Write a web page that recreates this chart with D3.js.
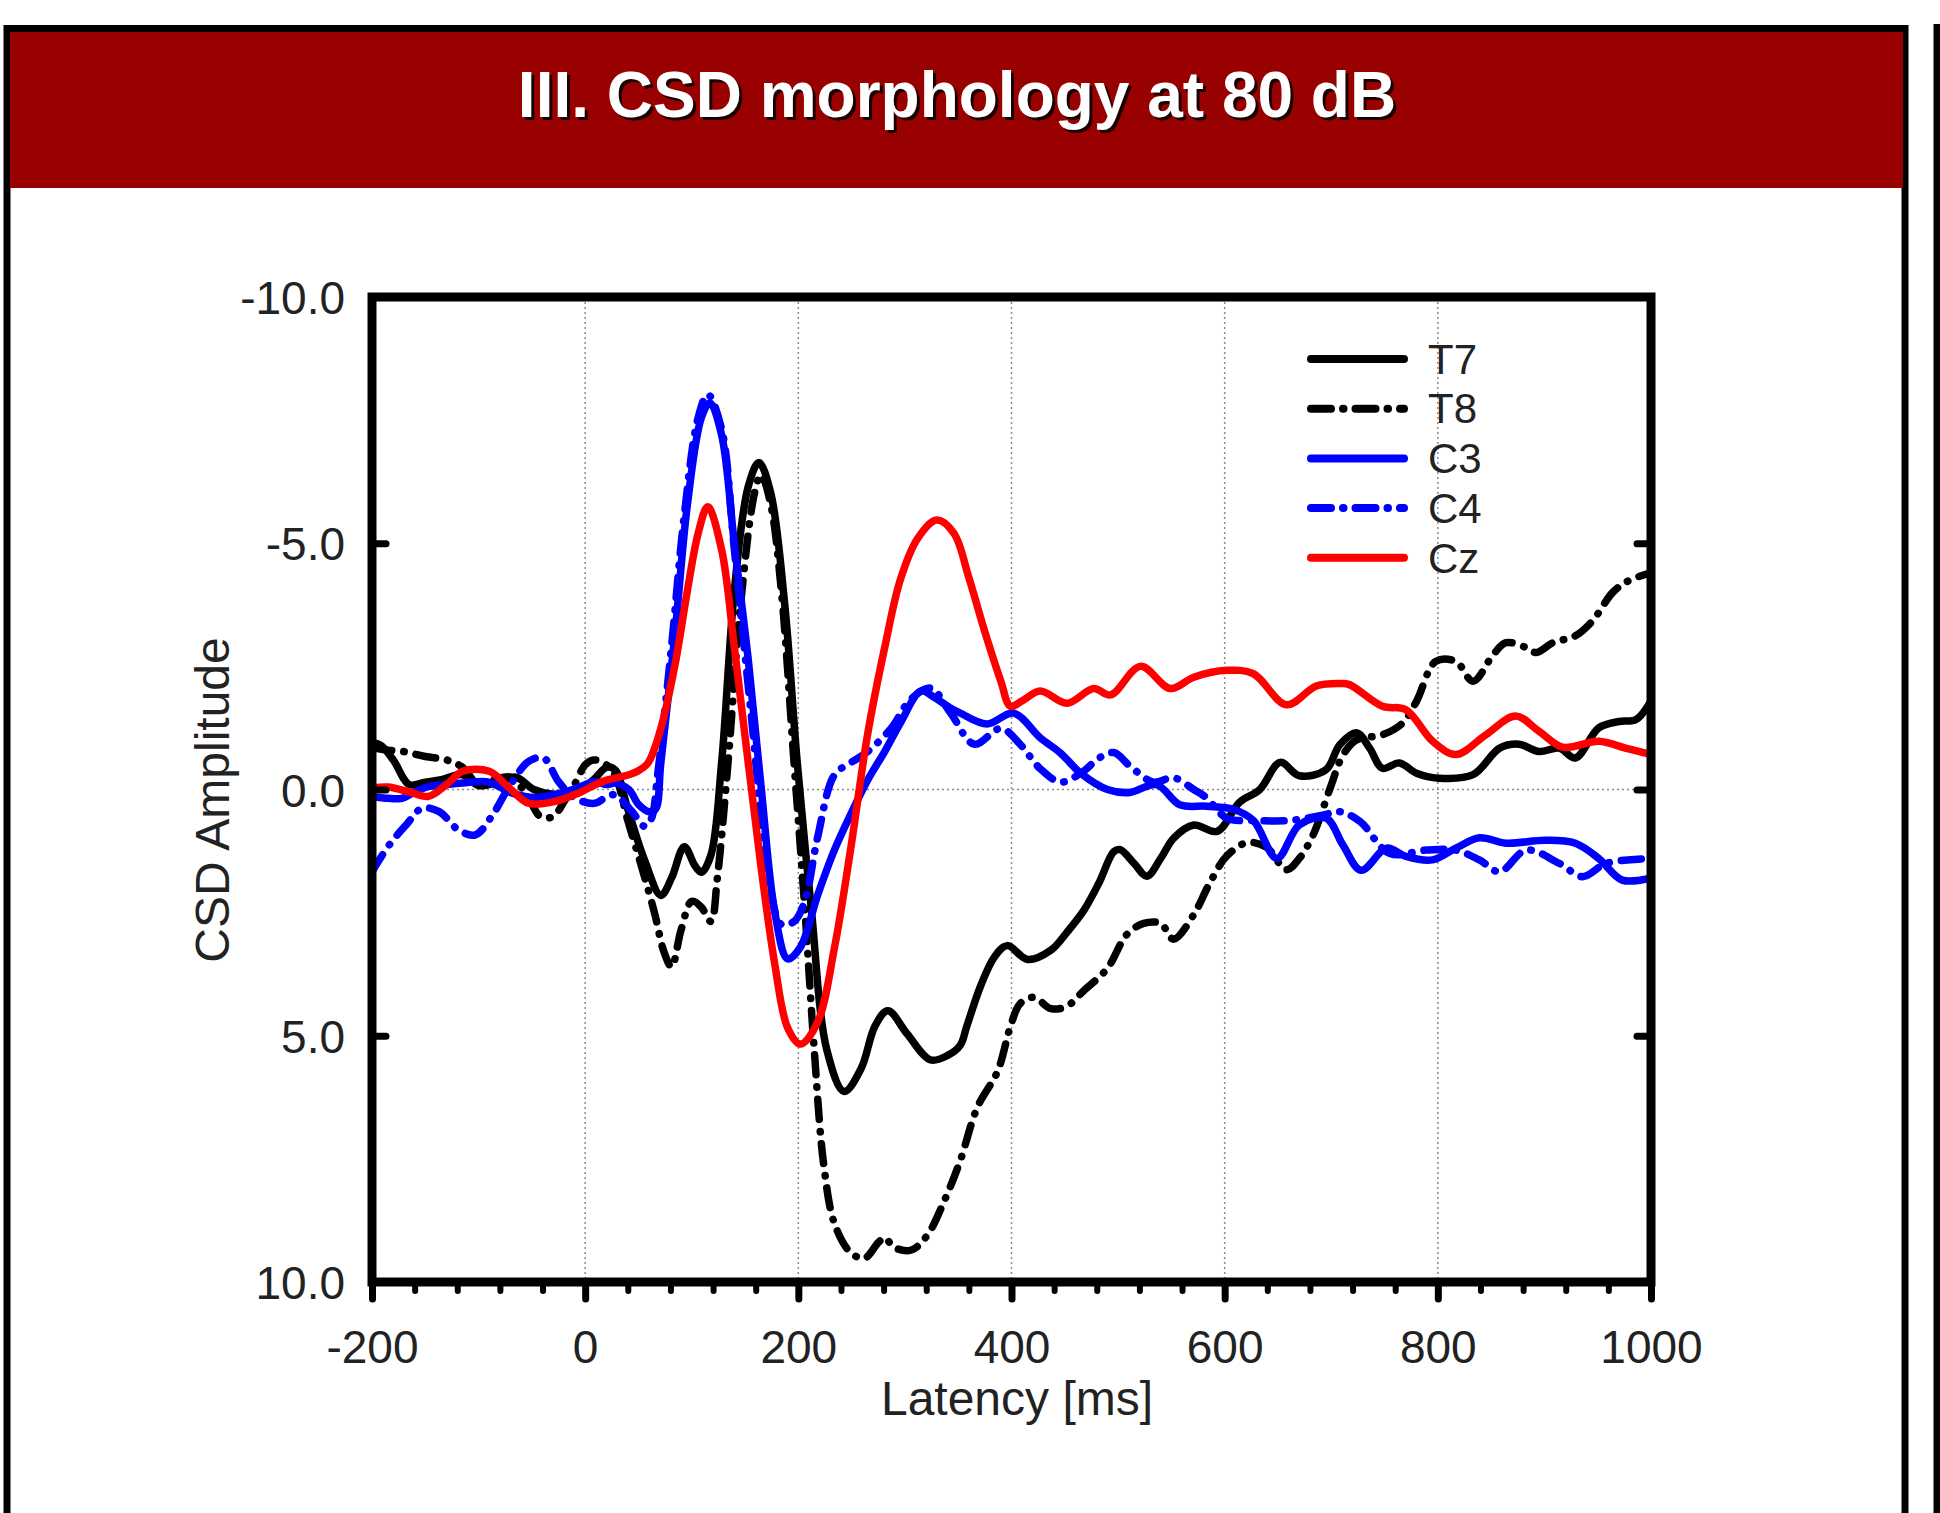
<!DOCTYPE html>
<html>
<head>
<meta charset="utf-8">
<script src="https://cdn.jsdelivr.net/npm/d3@7"></script>
<style>
  body { margin: 0; background: #fff; }
  svg { display: block; font-family: "Liberation Sans", Arial, sans-serif; }
</style>
</head>
<body>
<div id="chart"></div>
<script>
// data: [latency ms, CSD amplitude]
const t7 = [[-200,-0.95],[-192,-0.9],[-180,-0.6],[-165,-0.1],[-150,-0.15],[-135,-0.2],[-115,-0.3],[-100,-0.08],[-82,-0.15],[-65,-0.25],[-48,0.0],[-28,0.1],[-8,0.05],[8,-0.2],[20,-0.45],[28,-0.4],[40,0.4],[56,1.45],[71,2.15],[81,1.8],[93,1.16],[103,1.55],[109,1.68],[118,1.33],[128,-0.54],[140,-4.05],[153,-6.15],[163,-6.64],[174,-6.03],[187,-3.81],[199,-0.54],[212,2.39],[227,5.31],[243,6.13],[259,5.66],[272,4.8],[284,4.49],[302,4.96],[324,5.49],[340,5.4],[352,5.19],[358,4.81],[371,3.99],[384,3.4],[396,3.17],[415,3.45],[437,3.26],[452,2.9],[468,2.45],[482,1.9],[496,1.26],[502,1.22],[515,1.5],[527,1.76],[540,1.4],[552,0.99],[571,0.72],[593,0.85],[614,0.26],[633,0.0],[652,-0.55],[670,-0.28],[695,-0.4],[708,-0.91],[724,-1.15],[736,-0.84],[748,-0.43],[764,-0.54],[780,-0.33],[801,-0.23],[833,-0.3],[858,-0.84],[876,-0.92],[895,-0.77],[914,-0.84],[929,-0.64],[951,-1.25],[970,-1.38],[986,-1.42],[1000,-1.8]];

const t8 = [[-200,-0.85],[-185,-0.8],[-170,-0.77],[-150,-0.67],[-130,-0.6],[-115,-0.45],[-100,-0.1],[-85,-0.2],[-70,-0.25],[-55,0.1],[-42,0.55],[-30,0.55],[-20,0.25],[-10,-0.1],[0,-0.5],[8,-0.6],[20,-0.5],[28,-0.3],[40,0.63],[53,1.57],[65,2.5],[74,3.3],[81,3.6],[90,2.85],[100,2.27],[109,2.39],[118,2.68],[124,1.8],[134,-0.54],[146,-3.8],[159,-6.03],[165,-6.39],[174,-5.8],[184,-4.05],[196,-0.54],[206,2.39],[215,5.31],[224,7.65],[234,8.82],[249,9.4],[262,9.52],[275,9.2],[281,9.1],[290,9.3],[306,9.35],[321,9.05],[337,8.35],[352,7.53],[368,6.45],[387,5.72],[399,4.81],[408,4.35],[421,4.22],[437,4.45],[452,4.4],[468,4.08],[490,3.63],[508,2.95],[524,2.72],[540,2.72],[552,3.04],[571,2.54],[586,1.9],[602,1.35],[621,1.08],[639,1.17],[658,1.63],[670,1.4],[683,0.92],[699,-0.03],[711,-0.7],[724,-1.01],[748,-1.11],[767,-1.35],[780,-1.79],[798,-2.6],[817,-2.6],[833,-2.2],[852,-2.74],[864,-2.98],[883,-2.88],[892,-2.78],[908,-2.98],[929,-3.12],[945,-3.42],[964,-4.0],[979,-4.24],[1000,-4.4]];

const c3 = [[-200,0.14],[-185,0.18],[-172,0.18],[-160,0.05],[-147,-0.06],[-130,-0.1],[-115,-0.13],[-93,-0.16],[-80,-0.05],[-69,0.07],[-47,0.16],[-22,0.07],[-5,-0.05],[9,-0.16],[20,-0.1],[28,-0.13],[41,0.0],[50,0.3],[60,0.45],[66,0.4],[71,-0.54],[84,-3.1],[96,-5.8],[109,-7.55],[117,-7.85],[128,-7.2],[140,-4.98],[153,-2.64],[165,-0.07],[178,2.5],[190,3.44],[202,3.2],[218,2.15],[234,1.22],[249,0.51],[265,-0.19],[281,-0.77],[296,-1.36],[315,-2.0],[327,-1.88],[343,-1.65],[352,-1.55],[377,-1.33],[402,-1.55],[427,-1.05],[446,-0.74],[465,-0.33],[490,0.0],[511,0.06],[536,-0.1],[558,0.31],[583,0.34],[608,0.4],[627,0.63],[649,1.4],[670,0.72],[695,0.58],[711,1.13],[728,1.64],[752,1.19],[770,1.36],[795,1.43],[817,1.19],[839,0.98],[864,1.09],[901,1.03],[929,1.09],[951,1.4],[973,1.84],[1000,1.8]];

const c4 = [[-200,1.67],[-184,1.13],[-168,0.72],[-153,0.38],[-137,0.45],[-119,0.82],[-103,0.92],[-87,0.52],[-72,-0.03],[-53,-0.57],[-39,-0.64],[-25,-0.16],[-9,0.18],[9,0.28],[20,0.15],[28,0.11],[44,0.45],[56,0.75],[62,0.6],[68,-0.3],[81,-2.9],[93,-5.57],[106,-7.55],[115,-8.02],[128,-7.32],[140,-4.87],[156,-1.47],[171,1.57],[184,2.74],[196,2.68],[206,2.27],[218,0.98],[234,-0.3],[249,-0.54],[265,-0.77],[287,-1.24],[305,-1.82],[324,-2.06],[343,-1.55],[365,-0.92],[390,-1.24],[408,-0.92],[427,-0.42],[446,-0.15],[465,-0.33],[483,-0.65],[496,-0.75],[511,-0.48],[533,-0.15],[552,-0.24],[571,0.0],[583,0.17],[602,0.58],[630,0.63],[661,0.63],[692,0.52],[708,0.45],[727,0.65],[755,1.3],[789,1.23],[817,1.23],[839,1.43],[858,1.67],[883,1.23],[914,1.5],[936,1.77],[958,1.5],[1000,1.4]];

const cz = [[-200,-0.03],[-185,-0.05],[-165,0.05],[-147,0.14],[-130,-0.1],[-115,-0.37],[-90,-0.37],[-72,-0.05],[-53,0.28],[-28,0.24],[-6,0.07],[16,-0.16],[41,-0.3],[50,-0.38],[59,-0.54],[71,-1.24],[84,-2.5],[96,-4.05],[106,-5.2],[115,-5.74],[128,-4.87],[140,-2.88],[153,-0.54],[165,1.57],[178,3.56],[190,4.84],[202,5.17],[218,4.73],[234,3.2],[249,1.22],[265,-1.12],[281,-2.88],[296,-4.28],[312,-5.1],[330,-5.47],[346,-5.2],[360,-4.3],[375,-3.2],[390,-2.2],[399,-1.69],[410,-1.8],[427,-2.0],[452,-1.75],[477,-2.05],[493,-1.92],[521,-2.5],[549,-2.05],[571,-2.28],[602,-2.42],[627,-2.35],[658,-1.72],[686,-2.1],[708,-2.15],[717,-2.13],[748,-1.69],[770,-1.62],[795,-0.98],[817,-0.71],[845,-1.11],[873,-1.49],[895,-1.18],[917,-0.86],[951,-0.98],[976,-0.84],[1000,-0.71]];

const seriesNames = ["T7", "T8", "C3", "C4", "Cz"];
const seriesData = [t7, t8, c3, c4, cz];
const seriesColors = ["#000000", "#000000", "#0000ff", "#0000ff", "#ff0000"];
const seriesDashed = [false, true, false, true, false];

const xTicks = [-200, 0, 200, 400, 600, 800, 1000];
const yTicks = [-10, -5, 0, 5, 10];
const gridX = [0, 200, 400, 600, 800];

const W = 1940, H = 1513;
const svg = d3.select("#chart").append("svg")
  .attr("width", W)
  .attr("height", H);

// poster panel
svg.append("rect")
  .attr("x", 7).attr("y", 28.5)
  .attr("width", 1898).attr("height", 1600)
  .attr("fill", "#fff").attr("stroke", "#000").attr("stroke-width", 7);
svg.append("line")
  .attr("x1", 1937).attr("x2", 1937).attr("y1", 24).attr("y2", H)
  .attr("stroke", "#000").attr("stroke-width", 7);

svg.append("rect")
  .attr("x", 10).attr("y", 32)
  .attr("width", 1893).attr("height", 156)
  .attr("fill", "#990000");

const title = "III. CSD morphology at 80 dB";
svg.append("text")
  .attr("x", 960).attr("y", 120)
  .attr("text-anchor", "middle")
  .attr("font-size", 64).attr("font-weight", "bold")
  .attr("fill", "#1a0000")
  .text(title);
svg.append("text")
  .attr("x", 957).attr("y", 117)
  .attr("text-anchor", "middle")
  .attr("font-size", 64).attr("font-weight", "bold")
  .attr("fill", "#fff")
  .text(title);

// chart
const x = d3.scaleLinear().domain([-200, 1000]).range([372, 1651]);
const y = d3.scaleLinear().domain([-10, 10]).range([297, 1282]);

svg.append("defs").append("clipPath").attr("id", "plot")
  .append("rect")
  .attr("x", x(-200)).attr("y", y(-10))
  .attr("width", x(1000) - x(-200)).attr("height", y(10) - y(-10));

const grid = svg.append("g")
  .attr("stroke", "#8a8a8a").attr("stroke-width", 1.5).attr("stroke-dasharray", "2,3");
grid.selectAll("line.gx").data(gridX).join("line")
  .attr("class", "gx")
  .attr("x1", d => x(d)).attr("x2", d => x(d))
  .attr("y1", y(-10)).attr("y2", y(10));
grid.append("line")
  .attr("x1", x(-200)).attr("x2", x(1000))
  .attr("y1", y(0)).attr("y2", y(0));

const line = d3.line()
  .x(d => x(d[0]))
  .y(d => y(d[1]))
  .curve(d3.curveCatmullRom.alpha(0.5));

svg.append("g").attr("clip-path", "url(#plot)")
  .selectAll("path")
  .data(seriesData)
  .join("path")
  .attr("d", line)
  .attr("fill", "none")
  .attr("stroke", (d, i) => seriesColors[i])
  .attr("stroke-width", 7.5)
  .attr("stroke-linecap", "round")
  .attr("stroke-linejoin", "round")
  .attr("stroke-dasharray", (d, i) => seriesDashed[i] ? "20,12,0.5,12" : null);

// axes
function styleAxis(g, size) {
  g.select(".domain").remove();
  g.selectAll(".tick line")
    .attr("stroke", "#000").attr("stroke-width", 7).attr("stroke-linecap", "round");
  g.selectAll(".tick text")
    .attr("font-size", size).attr("fill", "#222")
    .attr("font-family", "\"Liberation Sans\", Arial, sans-serif");
}

svg.append("g")
  .attr("transform", `translate(0,${y(10)})`)
  .call(d3.axisBottom(x)
    .tickValues(d3.range(-200, 1001, 40).filter(d => d % 200 !== 0))
    .tickSize(9).tickFormat(""))
  .call(g => styleAxis(g, 46))
  .call(g => g.selectAll(".tick line").attr("stroke-width", 6));

svg.append("g")
  .attr("transform", `translate(0,${y(10)})`)
  .call(d3.axisBottom(x).tickValues(xTicks)
    .tickSize(17).tickPadding(31).tickFormat(d => String(d)))
  .call(g => styleAxis(g, 46));

svg.append("g")
  .attr("transform", `translate(${x(-200)},0)`)
  .call(d3.axisLeft(y).tickValues(yTicks)
    .tickSizeInner(-14).tickSizeOuter(0).tickPadding(27)
    .tickFormat(d => d.toFixed(1)))
  .call(g => styleAxis(g, 46))
  .call(g => g.selectAll(".tick text").attr("dy", "0.36em"));

svg.append("g")
  .attr("transform", `translate(${x(1000)},0)`)
  .call(d3.axisRight(y).tickValues(yTicks)
    .tickSizeInner(-14).tickSizeOuter(0).tickFormat(""))
  .call(g => styleAxis(g, 46));

svg.append("rect")
  .attr("x", x(-200)).attr("y", y(-10))
  .attr("width", x(1000) - x(-200)).attr("height", y(10) - y(-10))
  .attr("fill", "none").attr("stroke", "#000").attr("stroke-width", 9);

svg.append("text")
  .attr("x", 1017).attr("y", 1415)
  .attr("text-anchor", "middle")
  .attr("font-size", 48).attr("fill", "#222")
  .text("Latency [ms]");

svg.append("text")
  .attr("transform", "translate(229,800) rotate(-90)")
  .attr("text-anchor", "middle")
  .attr("font-size", 48).attr("fill", "#222")
  .text("CSD Amplitude");

// legend
const legend = svg.append("g")
  .selectAll("g")
  .data(seriesNames)
  .join("g")
  .attr("transform", (d, i) => `translate(1311,${359 + i * 49.7})`);

legend.append("line")
  .attr("x1", 0).attr("x2", 93)
  .attr("stroke", (d, i) => seriesColors[i])
  .attr("stroke-width", 8)
  .attr("stroke-linecap", "round")
  .attr("stroke-dasharray", (d, i) => seriesDashed[i] ? "20,12,0.5,12" : null);

legend.append("text")
  .attr("x", 117).attr("dy", "0.35em")
  .attr("font-size", 42).attr("fill", "#222")
  .text(d => d);
</script>
</body>
</html>
